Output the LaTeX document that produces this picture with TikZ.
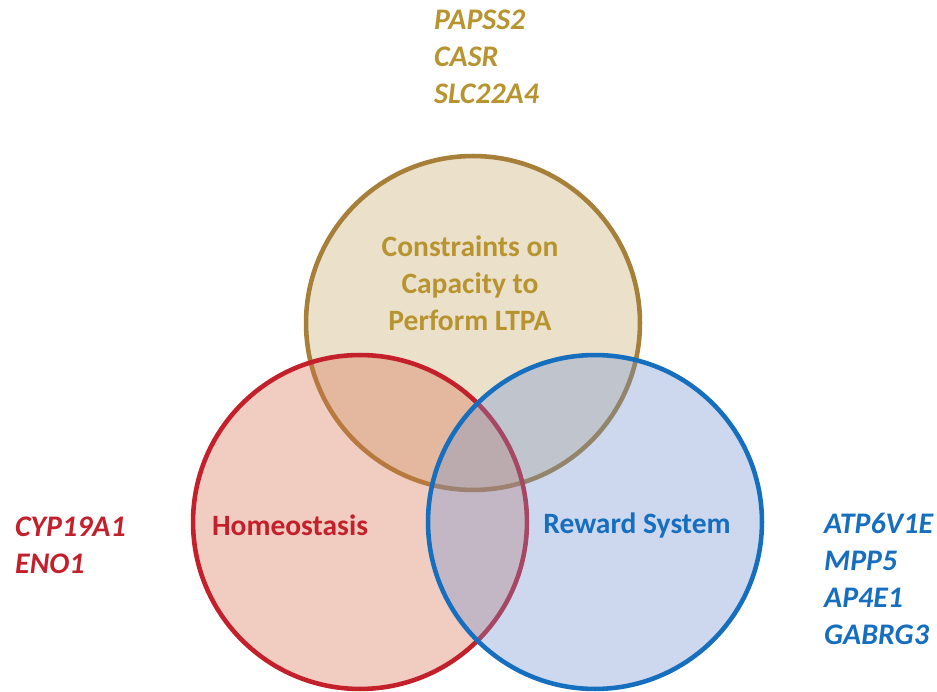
\documentclass[tikz,border=0pt]{standalone}
\usepackage{fontspec}
\setmainfont{Carlito}
\usetikzlibrary{positioning}
\definecolor{goldtxt}{RGB}{184,148,48}
\definecolor{tanline}{RGB}{166,128,56}
\definecolor{tanfill}{RGB}{235,225,203}
\definecolor{redline}{RGB}{196,32,44}
\definecolor{redfill}{RGB}{215,110,75}
\definecolor{blueline}{RGB}{22,110,190}
\definecolor{bluefill}{RGB}{112,144,206}

\begin{document}
\begin{tikzpicture}[
  x=0.02cm, y=-0.02cm,
  setc/.style={circle, minimum size=6.68cm, line width=2.6pt, inner sep=0pt},
  lbl/.style={font=\fontsize{16.8}{21}\selectfont\bfseries, align=center},
  genes/.style={font=\fontsize{17}{21}\selectfont\bfseries\itshape, align=left, anchor=west}
]
  \useasboundingbox (0,0) rectangle (937,692);

  % the three sets
  \node[setc, draw=tanline, fill=tanfill] (constraints) at (473,323) {};
  \node[setc, draw=redline, fill=redfill, fill opacity=0.35] (homeo) at (360,522) {};
  \node[setc, draw=blueline, fill=bluefill, fill opacity=0.35] (reward) at (595,522) {};

  % set names
  \node[lbl, text=goldtxt] (constraintsname) at (470,283) {Constraints on\\Capacity to\\Perform LTPA};
  \node[lbl, text=redline] (homeoname) at (290,525) {Homeostasis};
  \node[lbl, text=blueline] (rewardname) at (637,525) {Reward System};

  % genes for each set
  \node[genes, text=goldtxt] (goldgenes) at (428,57) {PAPSS2\\CASR\\SLC22A4};
  \node[genes, text=redline] (redgenes) at (9,545) {CYP19A1\\ENO1};
  \node[genes, text=blueline] (bluegenes) at (818,579) {ATP6V1E\\MPP5\\AP4E1\\GABRG3};
\end{tikzpicture}
\end{document}
